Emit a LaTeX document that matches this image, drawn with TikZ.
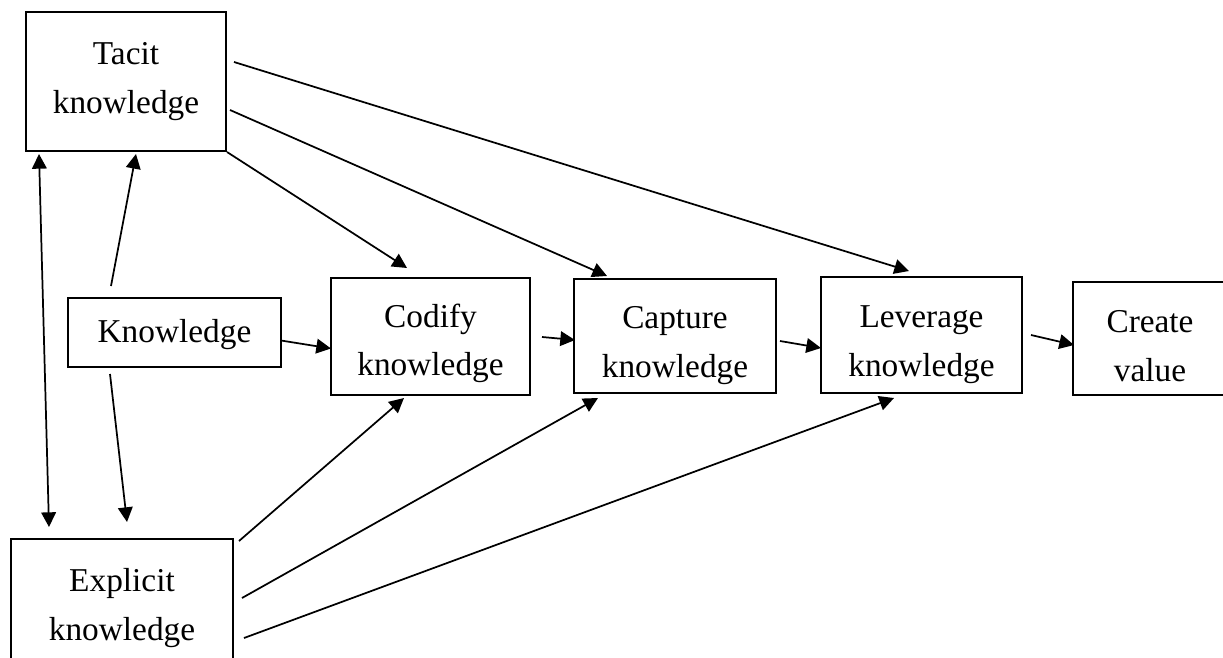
\documentclass[tikz,border=0pt]{standalone}
\usepackage{fontspec}
\setmainfont{Liberation Serif}
\usetikzlibrary{arrows.meta}
\newcommand{\lowstrut}{\rule{0pt}{31pt}}
\begin{document}
\begin{tikzpicture}[x=0.75pt,y=-0.75pt,
  box/.style={draw,line width=1.5pt,inner sep=0pt,align=center,
    font=\fontsize{25}{36.5}\selectfont},
  conn/.style={line width=1.3pt,-{Triangle[length=11pt,width=11pt]}},
  dconn/.style={line width=1.3pt,{Triangle[length=11pt,width=11pt]}-{Triangle[length=11pt,width=11pt]}}]
\useasboundingbox (0,0) rectangle (1223,657);
\fill[white] (0,0) rectangle (1223,657);
\clip (0,0) rectangle (1223,657);
\node[box,minimum width=150pt,minimum height=104.25pt] (tacit) at (126,81.5) {Tacit\\knowledge};
\node[box,minimum width=159.75pt,minimum height=51.75pt] (know) at (174.5,332.5) {\rule{0pt}{20pt}Knowledge};
\node[box,minimum width=149.25pt,minimum height=87.75pt] (codify) at (430.5,336.5) {\rule{0pt}{28pt}Codify\\knowledge};
\node[box,minimum width=151.5pt,minimum height=85.5pt] (capture) at (675,336) {\lowstrut Capture\\knowledge};
\node[box,minimum width=150.75pt,minimum height=87pt] (leverage) at (921.5,335) {\lowstrut Leverage\\knowledge};
\node[box,minimum width=115.5pt,minimum height=84.75pt] (create) at (1150,338.5) {\rule{0pt}{28pt}Create\\value};
\node[box,minimum width=166.5pt,minimum height=103.5pt] (explicit) at (122,608) {Explicit\\knowledge};
% knowledge to tacit / explicit
\draw[conn] ([shift={(44,-11)}]know.north west) -- ([shift={(111,2)}]tacit.south west);
\draw[conn] ([shift={(43,6)}]know.south west) -- ([shift={(117,-16)}]explicit.north west);
\draw[dconn] ([shift={(14,2)}]tacit.south west) -- ([shift={(39,-11)}]explicit.north west);
% main chain
\draw[conn] ([shift={(-1,8)}]know.east) -- ([shift={(1,12)}]codify.west);
\draw[conn] ([shift={(11,0.5)}]codify.east) -- ([shift={(2,4)}]capture.west);
\draw[conn] ([shift={(3,5)}]capture.east) -- ([shift={(1,13)}]leverage.west);
\draw[conn] ([shift={(8,0)}]leverage.east) -- ([shift={(2,6.5)}]create.west);
% tacit to stages
\draw[conn] (tacit.south east) -- ([shift={(77,-9)}]codify.north west);
\draw[conn] ([shift={(3,28.5)}]tacit.east) -- ([shift={(34,-2)}]capture.north west);
\draw[conn] ([shift={(7,-19.5)}]tacit.east) -- ([shift={(89,-5)}]leverage.north west);
% explicit to stages
\draw[conn] ([shift={(5,3)}]explicit.north east) -- ([shift={(74,2)}]codify.south west);
\draw[conn] ([shift={(8,-10)}]explicit.east) -- ([shift={(25,4)}]capture.south west);
\draw[conn] ([shift={(10,30)}]explicit.east) -- ([shift={(74,4)}]leverage.south west);
\end{tikzpicture}
\end{document}
